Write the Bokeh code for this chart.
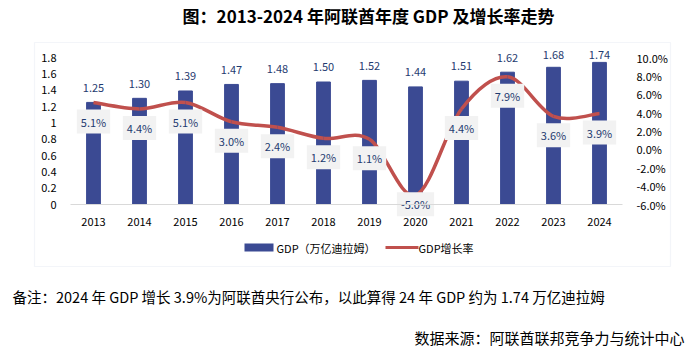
from bokeh.plotting import figure
from bokeh.models import (Range1d, LinearAxis, Label, BoxAnnotation, ColumnDataSource,
                          FixedTicker, LabelSet)
from bokeh.embed import file_html
from bokeh.resources import INLINE
from bokeh.core.properties import value
import numpy as np

# ---------------- data ----------------
years = ["2013", "2014", "2015", "2016", "2017", "2018", "2019", "2020", "2021", "2022", "2023", "2024"]
gdp = [1.25, 1.30, 1.39, 1.47, 1.48, 1.50, 1.52, 1.44, 1.51, 1.62, 1.68, 1.74]
growth = [5.1, 4.4, 5.1, 3.0, 2.4, 1.2, 1.1, -5.0, 4.4, 7.9, 3.6, 3.9]
left_ticks = [0, 0.2, 0.4, 0.6, 0.8, 1, 1.2, 1.4, 1.6, 1.8]
right_ticks = [-6, -4, -2, 0, 2, 4, 6, 8, 10]

title_text = "图：2013-2024 年阿联酋年度 GDP 及增长率走势"
legend_gdp = "GDP（万亿迪拉姆）"
legend_growth = "GDP增长率"
note_text = "备注：2024 年 GDP 增长 3.9%为阿联酋央行公布，以此算得 24 年 GDP 约为 1.74 万亿迪拉姆"
source_text = "数据来源：阿联酋联邦竞争力与统计中心"

# ---------------- layout / styles ----------------
W, H = 688, 350
BOX_L, BOX_R, BOX_T, BOX_B = 34, 670, 42, 266      # bordered chart box
PL, PR, PT, PB = 70, 622, 57, 204                  # plotting area inside the box
FONT = "Noto Sans CJK SC"
BAR = "#3B4A93"
LINE = "#C0504D"
LBL = "#1F3B70"

n = len(years)
xs = list(range(n))
x_lo, x_hi = -0.5, n - 0.5
y_lo, y_hi = left_ticks[0], left_ticks[-1]
g_lo, g_hi = right_ticks[0], right_ticks[-1]

# the bokeh frame covers the whole canvas; ranges are extended so that
# the plotting area lands at PL..PR x PT..PB
kx = (PR - PL) / (x_hi - x_lo)
ky = (PB - PT) / (y_hi - y_lo)
kg = (PB - PT) / (g_hi - g_lo)
xr = Range1d(x_lo - PL / kx, x_hi + (W - PR) / kx)
yr = Range1d(y_lo - (H - PB) / ky, y_hi + PT / ky)
gr = Range1d(g_lo - (H - PB) / kg, g_hi + PT / kg)

def sy(y):  # canvas px from top -> screen y from bottom
    return H - y

p = figure(width=W, height=H, output_backend="svg", toolbar_location=None,
           x_range=xr, y_range=yr,
           min_border_left=0, min_border_right=0, min_border_top=0, min_border_bottom=0)
p.title.visible = False
p.outline_line_color = None
p.grid.visible = False
p.background_fill_color = "white"
p.border_fill_color = "white"

# x axis
xa = p.xaxis[0]
xa.fixed_location = 0
xa.bounds = (x_lo, x_hi)
xa.ticker = FixedTicker(ticks=xs)
xa.major_label_overrides = {i: y for i, y in enumerate(years)}
xa.axis_line_color = "#D9D9D9"
xa.major_tick_line_color = None
xa.minor_tick_line_color = None
xa.major_label_text_font = FONT
xa.major_label_text_font_size = "11px"
xa.major_label_text_color = "#000000"
xa.major_label_standoff = 7

# left axis
ya = p.yaxis[0]
ya.fixed_location = x_lo
ya.ticker = FixedTicker(ticks=left_ticks)
ya.major_label_overrides = {t: f"{t:g}" for t in left_ticks}
ya.axis_line_color = None
ya.major_tick_line_color = None
ya.minor_tick_line_color = None
ya.major_label_text_font = FONT
ya.major_label_text_font_size = "11px"
ya.major_label_text_color = "#000000"
ya.major_label_standoff = 8

# right axis
p.extra_y_ranges = {"g": gr}
ra = LinearAxis(y_range_name="g", ticker=FixedTicker(ticks=right_ticks), fixed_location=x_hi)
ra.major_label_overrides = {t: f"{t:.1f}%" for t in right_ticks}
ra.axis_line_color = None
ra.major_tick_line_color = None
ra.minor_tick_line_color = None
ra.major_label_text_font = FONT
ra.major_label_text_font_size = "11px"
ra.major_label_text_color = "#000000"
ra.major_label_standoff = 8
p.add_layout(ra, "right")

# chart box
p.add_layout(BoxAnnotation(left=BOX_L, right=BOX_R, top=sy(BOX_T), bottom=sy(BOX_B),
                           left_units="screen", right_units="screen",
                           top_units="screen", bottom_units="screen",
                           fill_color=None, line_color="#D6DFEC", line_width=1.2,
                           level="underlay"))

# bars
bar_src = ColumnDataSource(dict(
    x=xs, top=gdp, txt=[f"{v:.2f}" for v in gdp],
    ly=list(np.minimum(np.array(gdp) + 0.18, 1.83))))
p.vbar(x="x", top="top", width=0.3, color=BAR, source=bar_src)
p.add_layout(LabelSet(x="x", y="ly", text="txt", source=bar_src,
                      text_align="center", text_baseline="middle",
                      text_font=value(FONT), text_font_size="11px", text_color=LBL))

# smoothed growth line (cubic bezier segments through the data points)
g = np.array(growth, dtype=float)
xv = np.array(xs, dtype=float)
x0, y0, x1, y1, cx0, cy0, cx1, cy1 = [], [], [], [], [], [], [], []
for i in range(n - 1):
    pxm, pym = (xv[i - 1], g[i - 1]) if i > 0 else (xv[i], g[i])
    px2, py2 = (xv[i + 2], g[i + 2]) if i + 2 < n else (xv[i + 1], g[i + 1])
    x0.append(xv[i]); y0.append(g[i]); x1.append(xv[i + 1]); y1.append(g[i + 1])
    cx0.append(xv[i] + (xv[i + 1] - pxm) / 6); cy0.append(g[i] + (g[i + 1] - pym) / 6)
    cx1.append(xv[i + 1] - (px2 - xv[i]) / 6); cy1.append(g[i + 1] - (py2 - g[i]) / 6)
p.bezier(x0=x0, y0=y0, x1=x1, y1=y1, cx0=cx0, cy0=cy0, cx1=cx1, cy1=cy1,
         line_color=LINE, line_width=3.5, y_range_name="g")

g_src = ColumnDataSource(dict(
    x=xs, y=growth, txt=[f"{v:.1f}%" for v in growth],
    off=[19 if v >= 0 else 9 for v in growth]))
p.text(x="x", y="y", text="txt", source=g_src, y_range_name="g",
       y_offset="off", text_align="center", text_baseline="middle",
       text_font=value(FONT), text_font_size="11px", text_color=LBL,
       background_fill_color="#F2F2F2", padding=4)

# legend (manual)
p.add_layout(BoxAnnotation(left=244, right=273, top=sy(243), bottom=sy(251),
                           left_units="screen", right_units="screen",
                           top_units="screen", bottom_units="screen",
                           fill_color=BAR, fill_alpha=1, line_color=None))
p.add_layout(Label(x=276, y=sy(247), x_units="screen", y_units="screen", text=legend_gdp,
                   text_font=FONT, text_font_size="11px", text_baseline="middle",
                   text_color="#000000"))
p.add_layout(BoxAnnotation(left=385, right=418, top=sy(245.5), bottom=sy(248.5),
                           left_units="screen", right_units="screen",
                           top_units="screen", bottom_units="screen",
                           fill_color=LINE, fill_alpha=1, line_color=None))
p.add_layout(Label(x=418, y=sy(247), x_units="screen", y_units="screen", text=legend_growth,
                   text_font=FONT, text_font_size="11px", text_baseline="middle",
                   text_color="#000000"))

# title, note, source
p.add_layout(Label(x=368, y=sy(15), x_units="screen", y_units="screen", text=title_text,
                   text_font=FONT, text_font_size="17px", text_font_style="bold",
                   text_align="center", text_baseline="middle", text_color="#000000"))
p.add_layout(Label(x=12, y=sy(296), x_units="screen", y_units="screen", text=note_text,
                   text_font=FONT, text_font_size="14.5px", text_baseline="middle",
                   text_color="#000000"))
p.add_layout(Label(x=684, y=sy(337), x_units="screen", y_units="screen", text=source_text,
                   text_font=FONT, text_font_size="15px", text_baseline="middle",
                   text_align="right", text_color="#000000"))

open("out.html", "w").write(file_html(p, INLINE))
